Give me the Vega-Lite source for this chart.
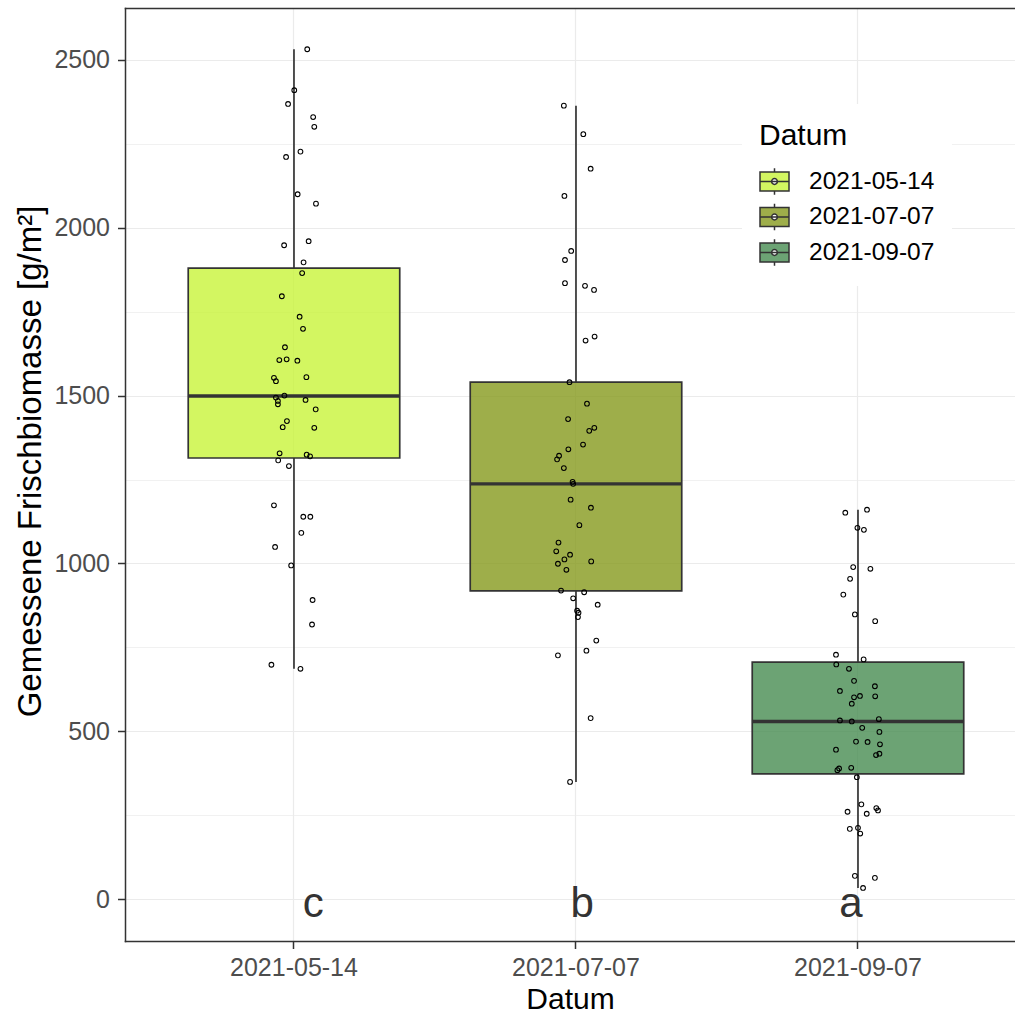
{
  "$schema": "https://vega.github.io/schema/vega-lite/v6.json",
  "width": 890,
  "height": 933,
  "autosize": {"type": "none"},
  "padding": {"left": 125, "top": 8, "right": 0, "bottom": 73},
  "background": "white",
  "config": {
    "view": {"stroke": null},
    "font": "Liberation Sans",
    "axis": {
      "labelFont": "Liberation Sans",
      "titleFont": "Liberation Sans",
      "labelFontSize": 25,
      "labelColor": "#4d4d4d",
      "titleFontSize": 31,
      "titleFontWeight": "normal",
      "titleColor": "black",
      "tickColor": "#333333",
      "tickWidth": 1.5,
      "tickSize": 7.5,
      "domainColor": "#333333",
      "domainWidth": 1.5,
      "domainCap": "square",
      "gridColor": "#ebebeb"
    }
  },
  "datasets": {
    "box": [
      {"Datum": "2021-05-14", "lower": 686, "q1": 1314, "median": 1499, "q3": 1880, "upper": 2532},
      {"Datum": "2021-07-07", "lower": 349, "q1": 918, "median": 1237, "q3": 1540, "upper": 2364},
      {"Datum": "2021-09-07", "lower": 33, "q1": 373, "median": 529, "q3": 706, "upper": 1160}
    ],
    "lab": [
      {"Datum": "2021-05-14", "pos": 0, "label": "c", "nudge": 0.068},
      {"Datum": "2021-07-07", "pos": 0, "label": "b", "nudge": 0.022},
      {"Datum": "2021-09-07", "pos": 0, "label": "a", "nudge": -0.025}
    ],
    "pts": [
      {"Datum": "2021-05-14", "biomasse": 2532, "jitter": 0.047},
      {"Datum": "2021-05-14", "biomasse": 2410, "jitter": 0.001},
      {"Datum": "2021-05-14", "biomasse": 2369, "jitter": -0.021},
      {"Datum": "2021-05-14", "biomasse": 2330, "jitter": 0.068},
      {"Datum": "2021-05-14", "biomasse": 2301, "jitter": 0.072},
      {"Datum": "2021-05-14", "biomasse": 2227, "jitter": 0.023},
      {"Datum": "2021-05-14", "biomasse": 2211, "jitter": -0.028},
      {"Datum": "2021-05-14", "biomasse": 2100, "jitter": 0.013},
      {"Datum": "2021-05-14", "biomasse": 2072, "jitter": 0.078},
      {"Datum": "2021-05-14", "biomasse": 1960, "jitter": 0.052},
      {"Datum": "2021-05-14", "biomasse": 1948, "jitter": -0.035},
      {"Datum": "2021-05-14", "biomasse": 1897, "jitter": 0.034},
      {"Datum": "2021-05-14", "biomasse": 1865, "jitter": 0.029},
      {"Datum": "2021-05-14", "biomasse": 1796, "jitter": -0.043},
      {"Datum": "2021-05-14", "biomasse": 1735, "jitter": 0.020},
      {"Datum": "2021-05-14", "biomasse": 1699, "jitter": 0.032},
      {"Datum": "2021-05-14", "biomasse": 1644, "jitter": -0.032},
      {"Datum": "2021-05-14", "biomasse": 1606, "jitter": -0.052},
      {"Datum": "2021-05-14", "biomasse": 1608, "jitter": -0.026},
      {"Datum": "2021-05-14", "biomasse": 1604, "jitter": 0.012},
      {"Datum": "2021-05-14", "biomasse": 1553, "jitter": -0.071},
      {"Datum": "2021-05-14", "biomasse": 1543, "jitter": -0.064},
      {"Datum": "2021-05-14", "biomasse": 1555, "jitter": 0.044},
      {"Datum": "2021-05-14", "biomasse": 1494, "jitter": -0.064},
      {"Datum": "2021-05-14", "biomasse": 1500, "jitter": -0.034},
      {"Datum": "2021-05-14", "biomasse": 1484, "jitter": -0.057},
      {"Datum": "2021-05-14", "biomasse": 1474, "jitter": -0.057},
      {"Datum": "2021-05-14", "biomasse": 1487, "jitter": 0.041},
      {"Datum": "2021-05-14", "biomasse": 1459, "jitter": 0.077},
      {"Datum": "2021-05-14", "biomasse": 1424, "jitter": -0.025},
      {"Datum": "2021-05-14", "biomasse": 1406, "jitter": -0.040},
      {"Datum": "2021-05-14", "biomasse": 1404, "jitter": 0.072},
      {"Datum": "2021-05-14", "biomasse": 1328, "jitter": -0.051},
      {"Datum": "2021-05-14", "biomasse": 1324, "jitter": 0.045},
      {"Datum": "2021-05-14", "biomasse": 1319, "jitter": 0.057},
      {"Datum": "2021-05-14", "biomasse": 1307, "jitter": -0.056},
      {"Datum": "2021-05-14", "biomasse": 1290, "jitter": -0.018},
      {"Datum": "2021-05-14", "biomasse": 1173, "jitter": -0.071},
      {"Datum": "2021-05-14", "biomasse": 1139, "jitter": 0.033},
      {"Datum": "2021-05-14", "biomasse": 1139, "jitter": 0.058},
      {"Datum": "2021-05-14", "biomasse": 1091, "jitter": 0.026},
      {"Datum": "2021-05-14", "biomasse": 1049, "jitter": -0.067},
      {"Datum": "2021-05-14", "biomasse": 994, "jitter": -0.010},
      {"Datum": "2021-05-14", "biomasse": 891, "jitter": 0.066},
      {"Datum": "2021-05-14", "biomasse": 818, "jitter": 0.064},
      {"Datum": "2021-05-14", "biomasse": 698, "jitter": -0.080},
      {"Datum": "2021-05-14", "biomasse": 686, "jitter": 0.023},
      {"Datum": "2021-07-07", "biomasse": 2364, "jitter": -0.043},
      {"Datum": "2021-07-07", "biomasse": 2279, "jitter": 0.026},
      {"Datum": "2021-07-07", "biomasse": 2176, "jitter": 0.052},
      {"Datum": "2021-07-07", "biomasse": 2095, "jitter": -0.041},
      {"Datum": "2021-07-07", "biomasse": 1931, "jitter": -0.017},
      {"Datum": "2021-07-07", "biomasse": 1904, "jitter": -0.039},
      {"Datum": "2021-07-07", "biomasse": 1835, "jitter": -0.039},
      {"Datum": "2021-07-07", "biomasse": 1827, "jitter": 0.032},
      {"Datum": "2021-07-07", "biomasse": 1815, "jitter": 0.064},
      {"Datum": "2021-07-07", "biomasse": 1676, "jitter": 0.066},
      {"Datum": "2021-07-07", "biomasse": 1664, "jitter": 0.034},
      {"Datum": "2021-07-07", "biomasse": 1540, "jitter": -0.023},
      {"Datum": "2021-07-07", "biomasse": 1476, "jitter": 0.039},
      {"Datum": "2021-07-07", "biomasse": 1430, "jitter": -0.028},
      {"Datum": "2021-07-07", "biomasse": 1404, "jitter": 0.065},
      {"Datum": "2021-07-07", "biomasse": 1395, "jitter": 0.047},
      {"Datum": "2021-07-07", "biomasse": 1354, "jitter": 0.025},
      {"Datum": "2021-07-07", "biomasse": 1340, "jitter": -0.027},
      {"Datum": "2021-07-07", "biomasse": 1321, "jitter": -0.060},
      {"Datum": "2021-07-07", "biomasse": 1310, "jitter": -0.067},
      {"Datum": "2021-07-07", "biomasse": 1284, "jitter": -0.043},
      {"Datum": "2021-07-07", "biomasse": 1243, "jitter": -0.012},
      {"Datum": "2021-07-07", "biomasse": 1237, "jitter": -0.010},
      {"Datum": "2021-07-07", "biomasse": 1190, "jitter": -0.019},
      {"Datum": "2021-07-07", "biomasse": 1166, "jitter": 0.053},
      {"Datum": "2021-07-07", "biomasse": 1114, "jitter": 0.012},
      {"Datum": "2021-07-07", "biomasse": 1062, "jitter": -0.062},
      {"Datum": "2021-07-07", "biomasse": 1036, "jitter": -0.070},
      {"Datum": "2021-07-07", "biomasse": 1026, "jitter": -0.021},
      {"Datum": "2021-07-07", "biomasse": 1012, "jitter": -0.041},
      {"Datum": "2021-07-07", "biomasse": 999, "jitter": -0.064},
      {"Datum": "2021-07-07", "biomasse": 1006, "jitter": 0.054},
      {"Datum": "2021-07-07", "biomasse": 981, "jitter": -0.034},
      {"Datum": "2021-07-07", "biomasse": 919, "jitter": -0.053},
      {"Datum": "2021-07-07", "biomasse": 914, "jitter": 0.029},
      {"Datum": "2021-07-07", "biomasse": 896, "jitter": -0.010},
      {"Datum": "2021-07-07", "biomasse": 877, "jitter": 0.077},
      {"Datum": "2021-07-07", "biomasse": 859, "jitter": 0.004},
      {"Datum": "2021-07-07", "biomasse": 853, "jitter": 0.009},
      {"Datum": "2021-07-07", "biomasse": 840, "jitter": 0.007},
      {"Datum": "2021-07-07", "biomasse": 770, "jitter": 0.072},
      {"Datum": "2021-07-07", "biomasse": 740, "jitter": 0.037},
      {"Datum": "2021-07-07", "biomasse": 726, "jitter": -0.064},
      {"Datum": "2021-07-07", "biomasse": 539, "jitter": 0.052},
      {"Datum": "2021-07-07", "biomasse": 349, "jitter": -0.021},
      {"Datum": "2021-09-07", "biomasse": 1151, "jitter": -0.045},
      {"Datum": "2021-09-07", "biomasse": 1160, "jitter": 0.032},
      {"Datum": "2021-09-07", "biomasse": 1106, "jitter": -0.002},
      {"Datum": "2021-09-07", "biomasse": 1100, "jitter": 0.021},
      {"Datum": "2021-09-07", "biomasse": 989, "jitter": -0.017},
      {"Datum": "2021-09-07", "biomasse": 984, "jitter": 0.044},
      {"Datum": "2021-09-07", "biomasse": 954, "jitter": -0.028},
      {"Datum": "2021-09-07", "biomasse": 907, "jitter": -0.052},
      {"Datum": "2021-09-07", "biomasse": 848, "jitter": -0.011},
      {"Datum": "2021-09-07", "biomasse": 828, "jitter": 0.061},
      {"Datum": "2021-09-07", "biomasse": 728, "jitter": -0.078},
      {"Datum": "2021-09-07", "biomasse": 714, "jitter": 0.020},
      {"Datum": "2021-09-07", "biomasse": 699, "jitter": -0.077},
      {"Datum": "2021-09-07", "biomasse": 686, "jitter": -0.032},
      {"Datum": "2021-09-07", "biomasse": 650, "jitter": -0.014},
      {"Datum": "2021-09-07", "biomasse": 634, "jitter": 0.060},
      {"Datum": "2021-09-07", "biomasse": 620, "jitter": -0.064},
      {"Datum": "2021-09-07", "biomasse": 601, "jitter": -0.014},
      {"Datum": "2021-09-07", "biomasse": 605, "jitter": 0.007},
      {"Datum": "2021-09-07", "biomasse": 604, "jitter": 0.061},
      {"Datum": "2021-09-07", "biomasse": 582, "jitter": -0.022},
      {"Datum": "2021-09-07", "biomasse": 532, "jitter": -0.064},
      {"Datum": "2021-09-07", "biomasse": 529, "jitter": -0.022},
      {"Datum": "2021-09-07", "biomasse": 536, "jitter": 0.074},
      {"Datum": "2021-09-07", "biomasse": 510, "jitter": 0.015},
      {"Datum": "2021-09-07", "biomasse": 498, "jitter": 0.076},
      {"Datum": "2021-09-07", "biomasse": 469, "jitter": -0.007},
      {"Datum": "2021-09-07", "biomasse": 468, "jitter": 0.034},
      {"Datum": "2021-09-07", "biomasse": 461, "jitter": 0.078},
      {"Datum": "2021-09-07", "biomasse": 445, "jitter": -0.078},
      {"Datum": "2021-09-07", "biomasse": 429, "jitter": 0.064},
      {"Datum": "2021-09-07", "biomasse": 433, "jitter": 0.076},
      {"Datum": "2021-09-07", "biomasse": 391, "jitter": -0.024},
      {"Datum": "2021-09-07", "biomasse": 389, "jitter": -0.067},
      {"Datum": "2021-09-07", "biomasse": 384, "jitter": -0.073},
      {"Datum": "2021-09-07", "biomasse": 363, "jitter": -0.004},
      {"Datum": "2021-09-07", "biomasse": 282, "jitter": 0.012},
      {"Datum": "2021-09-07", "biomasse": 271, "jitter": 0.065},
      {"Datum": "2021-09-07", "biomasse": 264, "jitter": 0.071},
      {"Datum": "2021-09-07", "biomasse": 260, "jitter": -0.037},
      {"Datum": "2021-09-07", "biomasse": 254, "jitter": 0.031},
      {"Datum": "2021-09-07", "biomasse": 209, "jitter": -0.029},
      {"Datum": "2021-09-07", "biomasse": 212, "jitter": 0.000},
      {"Datum": "2021-09-07", "biomasse": 195, "jitter": 0.008},
      {"Datum": "2021-09-07", "biomasse": 69, "jitter": -0.011},
      {"Datum": "2021-09-07", "biomasse": 63, "jitter": 0.060},
      {"Datum": "2021-09-07", "biomasse": 33, "jitter": 0.018}
    ]
  },
  "resolve": {"axis": {"x": "independent", "y": "independent"}},
  "layer": [
    {
      "data": {"name": "box"},
      "mark": {"type": "rule", "color": "#333333", "strokeWidth": 1.7},
      "encoding": {
        "x": {
          "field": "Datum", "type": "nominal",
          "scale": {"paddingInner": 0, "paddingOuter": 0.078, "align": 0.636},
          "axis": {"orient": "bottom", "title": "Datum", "labelAngle": 0, "grid": true, "gridWidth": 1.2, "bandPosition": 0.5, "labelPadding": 7, "titlePadding": 27.5, "titleBaseline": "alphabetic", "titleFontSize": 30, "domain": true}
        },
        "y": {
          "field": "lower", "type": "quantitative",
          "scale": {"domain": [-125.1, 2654.9], "nice": false, "zero": false},
          "axis": {"orient": "left", "title": "Gemessene Frischbiomasse [g/m²]", "titleFontSize": 33, "titleY": 453, "format": "d", "values": [0, 500, 1000, 1500, 2000, 2500], "grid": true, "gridWidth": 1.2, "labelPadding": 8, "titlePadding": 6.5, "domain": true}
        },
        "y2": {"field": "q1"}
      }
    },
    {
      "data": {"name": "box"},
      "mark": {"type": "rule", "color": "#333333", "strokeWidth": 1.7},
      "encoding": {
        "x": {
          "field": "Datum", "type": "nominal",
          "scale": {"paddingInner": 0, "paddingOuter": 0.078, "align": 0.636},
          "axis": {"orient": "top", "title": null, "labels": false, "ticks": false, "grid": false, "domain": true}
        },
        "y": {
          "field": "q3", "type": "quantitative",
          "scale": {"domain": [-125.1, 2654.9], "nice": false, "zero": false},
          "axis": {"orient": "right", "title": null, "labels": false, "ticks": false, "domain": false, "grid": true, "gridWidth": 0.7, "values": [250, 750, 1250, 1750, 2250]}
        },
        "y2": {"field": "upper"}
      }
    },
    {
      "data": {"name": "box"},
      "mark": {"type": "bar", "width": 211.5, "stroke": "#333333", "strokeWidth": 1.7, "fillOpacity": 0.8},
      "encoding": {
        "x": {"field": "Datum", "type": "nominal", "scale": {"paddingInner": 0, "paddingOuter": 0.078, "align": 0.636}, "axis": null},
        "y": {"field": "q1", "type": "quantitative", "scale": {"domain": [-125.1, 2654.9], "nice": false, "zero": false}, "axis": null},
        "y2": {"field": "q3"},
        "fill": {
          "field": "Datum", "type": "nominal",
          "scale": {"range": ["#C8F43A", "#869A1D", "#478C51"]},
          "legend": {
            "orient": "none", "legendX": 617, "legendY": 96,
            "title": "Datum", "fillColor": "white", "padding": 17,
            "titleFont": "Liberation Sans", "titleFontSize": 30, "titleFontWeight": "normal", "titleColor": "black", "titlePadding": 15,
            "labelFont": "Liberation Sans", "labelFontSize": 24.5, "labelColor": "black", "labelOffset": 19,
            "symbolType": "M-1,-0.65L1,-0.65L1,0.65L-1,0.65Z M-1,0L1,0 M0,-0.65L0,-0.92 M0,0.65L0,0.92 M0.2,0A0.2,0.2 0 1,0 -0.2,0A0.2,0.2 0 1,0 0.2,0",
            "symbolSize": 841, "symbolStrokeColor": "#333333", "symbolStrokeWidth": 1.5,
            "rowPadding": 2.5,
            "encode": {"symbols": {"update": {"fillOpacity": {"value": 0.8}}}}
          }
        }
      }
    },
    {
      "data": {"name": "box"},
      "mark": {"type": "tick", "thickness": 3.4, "size": 212, "color": "#333333", "opacity": 1},
      "encoding": {
        "x": {"field": "Datum", "type": "nominal", "scale": {"paddingInner": 0, "paddingOuter": 0.078, "align": 0.636}, "axis": null},
        "y": {"field": "median", "type": "quantitative", "scale": {"domain": [-125.1, 2654.9], "nice": false, "zero": false}, "axis": null}
      }
    },
    {
      "data": {"name": "pts"},
      "mark": {"type": "point", "shape": "circle", "filled": false, "stroke": "black", "strokeWidth": 1.1, "size": 22, "opacity": 1},
      "encoding": {
        "x": {"field": "Datum", "type": "nominal", "scale": {"paddingInner": 0, "paddingOuter": 0.078, "align": 0.636}, "axis": null},
        "xOffset": {"field": "jitter", "type": "quantitative", "scale": {"domain": [-0.5, 0.5], "nice": false, "zero": false}},
        "y": {"field": "biomasse", "type": "quantitative", "scale": {"domain": [-125.1, 2654.9], "nice": false, "zero": false}, "axis": null}
      }
    },
    {
      "data": {"name": "lab"},
      "mark": {"type": "text", "fontSize": 42, "font": "Liberation Sans", "color": "#333333", "baseline": "alphabetic", "align": "center", "dy": 18},
      "encoding": {
        "x": {"field": "Datum", "type": "nominal", "scale": {"paddingInner": 0, "paddingOuter": 0.078, "align": 0.636}, "axis": null},
        "xOffset": {"field": "nudge", "type": "quantitative", "scale": {"domain": [-0.5, 0.5], "nice": false, "zero": false}},
        "y": {"field": "pos", "type": "quantitative", "scale": {"domain": [-125.1, 2654.9], "nice": false, "zero": false}, "axis": null},
        "text": {"field": "label"}
      }
    }
  ]
}
